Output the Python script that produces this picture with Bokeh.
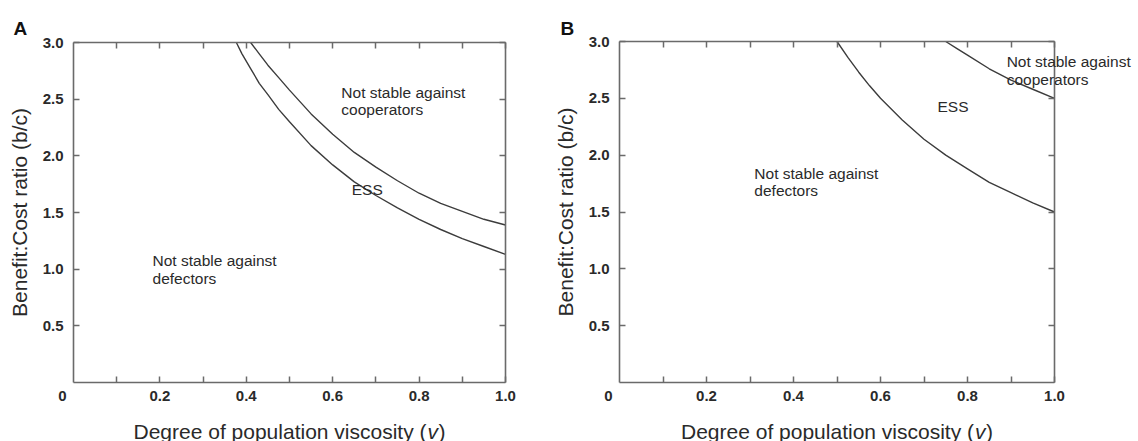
from bokeh.plotting import figure
from bokeh.models import Range1d, FixedTicker, LinearAxis, Label
from bokeh.layouts import row
from bokeh.embed import file_html
from bokeh.resources import INLINE

# ---------------- data ----------------
panel_letters = ["A", "B"]
x_ticks = [0.1, 0.2, 0.3, 0.4, 0.5, 0.6, 0.7, 0.8, 0.9, 1.0]
x_tick_labels = ["", "0.2", "", "0.4", "", "0.6", "", "0.8", "", "1.0"]
y_ticks = [0.5, 1.0, 1.5, 2.0, 2.5, 3.0]
y_tick_labels = ["0.5", "1.0", "1.5", "2.0", "2.5", "3.0"]
origin_label = "0"
y_title = "Benefit:Cost ratio (b/c)"
x_title_main = "Degree of population viscosity ("
x_title_var = "v"
x_title_end = ")"

# Panel A boundaries
A_lower_v = [0.377, 0.39, 0.41, 0.43, 0.45, 0.475, 0.50, 0.55, 0.60, 0.65, 0.70, 0.75,
             0.80, 0.85, 0.90, 0.95, 1.00]
A_lower_b = [3.00, 2.90, 2.77, 2.64, 2.54, 2.41, 2.30, 2.09, 1.92, 1.77, 1.65, 1.54,
             1.44, 1.35, 1.27, 1.20, 1.13]
A_upper_v = [0.410, 0.43, 0.45, 0.475, 0.50, 0.55, 0.60, 0.65, 0.70, 0.75, 0.80, 0.85,
             0.90, 0.95, 1.00]
A_upper_b = [3.00, 2.90, 2.80, 2.69, 2.58, 2.37, 2.19, 2.03, 1.90, 1.78, 1.67, 1.58,
             1.51, 1.44, 1.39]

# Panel B boundaries
B_lower_v = [0.50, 0.525, 0.55, 0.575, 0.60, 0.65, 0.70, 0.75, 0.80, 0.85, 0.90, 0.95, 1.00]
B_lower_b = [3.00, 2.86, 2.73, 2.61, 2.50, 2.31, 2.14, 2.00, 1.88, 1.76, 1.67, 1.58, 1.50]
B_upper_v = [0.75, 0.775, 0.80, 0.85, 0.90, 0.95, 1.00]
B_upper_b = [3.00, 2.94, 2.88, 2.76, 2.66, 2.58, 2.50]

# Region labels (text lines, anchor v, anchor b of first baseline)
A_region_text = [["Not stable against", "cooperators"], ["ESS"], ["Not stable against", "defectors"]]
A_region_v = [0.620, 0.644, 0.183]
A_region_b = [2.559, 1.703, 1.076]
B_region_text = [["Not stable against", "defectors"], ["ESS"], ["Not stable against", "cooperators"]]
B_region_v = [0.310, 0.731, 0.890]
B_region_b = [1.839, 2.428, 2.824]

# ---------------- styling ----------------
FONT = "Liberation Sans"
AXIS_COLOR = "#6a6a6a"
TEXT_COLOR = "#2a2a2a"
LINE_COLOR = "#3c3c3c"


def style_axis(ax, ticks, labels, bounds, show_labels=True):
    ax.ticker = FixedTicker(ticks=ticks)
    ax.major_label_overrides = {t: l for t, l in zip(ticks, labels)}
    ax.bounds = bounds
    ax.minor_tick_line_color = None
    ax.major_tick_in = 6
    ax.major_tick_out = 0
    ax.major_tick_line_color = AXIS_COLOR
    ax.major_tick_line_width = 1.5
    ax.axis_line_color = AXIS_COLOR
    ax.axis_line_width = 1.6
    ax.major_label_text_font = FONT
    ax.major_label_text_font_style = "bold"
    ax.major_label_text_color = TEXT_COLOR
    if show_labels:
        ax.major_label_text_font_size = "15px"
    else:
        ax.major_label_text_font_size = "0px"
        ax.major_label_standoff = 0


def make_panel(letter, W, H, left, right, top, bottom, letter_dx, letter_dy,
               curves, texts, tv, tb):
    fw = W - left - right
    fh = H - top - bottom
    # the plotting frame spans the whole canvas; the visible box is [0,1] x [0,3]
    xr = Range1d(-left / fw, 1 + right / fw)
    yr = Range1d(-3.0 * bottom / fh, 3 + 3.0 * top / fh)
    p = figure(width=W, height=H, x_range=xr, y_range=yr,
               min_border=0, min_border_left=0, min_border_right=0,
               min_border_top=0, min_border_bottom=0,
               output_backend="svg", toolbar_location=None,
               background_fill_color="white", border_fill_color="white")
    p.grid.visible = False
    p.outline_line_color = None

    xa = p.xaxis[0]
    style_axis(xa, x_ticks, x_tick_labels, (0, 1))
    xa.fixed_location = 0
    xa.major_label_standoff = 8

    ya = p.yaxis[0]
    style_axis(ya, y_ticks, y_tick_labels, (0, 3))
    ya.fixed_location = 0
    ya.major_label_standoff = 10
    ya.axis_label = y_title
    ya.axis_label_text_font = FONT
    ya.axis_label_text_font_size = "21px"
    ya.axis_label_text_font_style = "normal"
    ya.axis_label_text_color = TEXT_COLOR
    ya.axis_label_standoff = 9

    top_ax = LinearAxis(fixed_location=3)
    style_axis(top_ax, x_ticks, ["" for _ in x_ticks], (0, 1), show_labels=False)
    p.add_layout(top_ax, "above")
    right_ax = LinearAxis(fixed_location=1)
    style_axis(right_ax, y_ticks, ["" for _ in y_ticks], (0, 3), show_labels=False)
    p.add_layout(right_ax, "right")

    for vs, bs in curves:
        p.line(vs, bs, line_color=LINE_COLOR, line_width=1.4, line_join="round")

    # corner "0"
    p.add_layout(Label(x=0, y=0, x_offset=-11, y_offset=-8, text=origin_label,
                       text_align="center", text_baseline="top",
                       text_font=FONT, text_font_size="15px",
                       text_font_style="bold", text_color=TEXT_COLOR))

    # x-axis title with italic variable
    common = dict(x=0.5, y=0, y_offset=-49, text_baseline="alphabetic",
                  text_font=FONT, text_font_size="21px", text_color=TEXT_COLOR)
    p.add_layout(Label(text=x_title_main, x_offset=137, text_align="right", **common))
    p.add_layout(Label(text=x_title_var, x_offset=138, text_align="left",
                       text_font_style="italic", **common))
    p.add_layout(Label(text=x_title_end, x_offset=149, text_align="left", **common))

    # panel letter
    p.add_layout(Label(x=0, y=3, x_offset=letter_dx, y_offset=letter_dy, text=letter,
                       text_align="left", text_baseline="alphabetic",
                       text_font=FONT, text_font_size="19px",
                       text_font_style="bold", text_color="#111111"))

    # region labels
    for lines, v, b in zip(texts, tv, tb):
        for i, line in enumerate(lines):
            p.add_layout(Label(x=v, y=b, y_offset=-17.5 * i, text=line,
                               text_align="left", text_baseline="alphabetic",
                               text_font=FONT, text_font_size="15.5px",
                               text_color=TEXT_COLOR))
    return p


pA = make_panel(panel_letters[0], 550, 441, 73, 45, 42, 59, -60, 14,
                [(A_lower_v, A_lower_b), (A_upper_v, A_upper_b)],
                A_region_text, A_region_v, A_region_b)
pB = make_panel(panel_letters[1], 588, 441, 69, 84, 41, 59, -59, 13,
                [(B_lower_v, B_lower_b), (B_upper_v, B_upper_b)],
                B_region_text, B_region_v, B_region_b)

layout = row(pA, pB)
open("out.html", "w").write(file_html(layout, INLINE))
